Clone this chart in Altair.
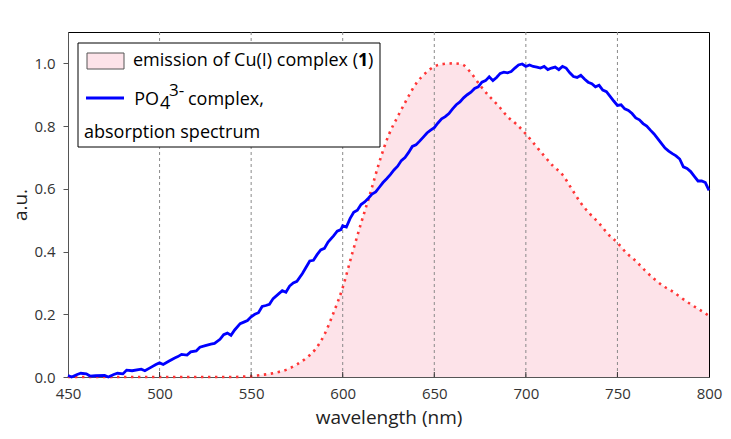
import altair as alt
import pandas as pd

# ---- data ----
em_wl = [450, 460, 470, 480, 490, 500, 510, 520, 530, 540, 545, 550, 555, 560, 565, 570, 575, 580,
         585, 590, 595, 600, 605, 610, 615, 620, 625, 630, 635, 640, 645, 650, 655, 660, 665,
         670, 675, 680, 685, 690, 695, 700, 705, 710, 715, 720, 725, 730, 735, 740, 745, 750,
         755, 760, 765, 770, 775, 780, 785, 790, 795, 800]
em_val = [0.0, 0.0, 0.0, 0.0, 0.0, 0.0, 0.0, 0.0, 0.0, 0.0, 0.001, 0.002, 0.006, 0.01, 0.016, 0.025,
          0.04, 0.06, 0.088, 0.135, 0.205, 0.285, 0.39, 0.49, 0.585, 0.685, 0.77, 0.83, 0.885,
          0.935, 0.968, 0.99, 0.998, 1.0, 0.997, 0.97, 0.93, 0.895, 0.865, 0.83, 0.805, 0.775,
          0.74, 0.705, 0.672, 0.645, 0.6, 0.555, 0.52, 0.49, 0.455, 0.428, 0.395, 0.37, 0.34,
          0.313, 0.29, 0.273, 0.252, 0.232, 0.214, 0.195]

ab_wl = [450, 452, 455, 457, 460, 462, 465, 470, 472, 475, 477, 480, 482, 485, 490, 492, 495, 498,
         500, 502, 505, 508, 510, 512, 515, 517, 520, 522, 525, 528, 530, 533, 535, 537, 539,
         541, 544, 546, 548, 550, 552, 554, 556, 558, 560, 562, 565, 567, 569, 571, 573, 575,
         578, 580, 582, 584, 586, 588, 590, 592, 595, 597, 599, 600, 602, 604, 606, 608, 610,
         612, 614, 616, 618, 620, 622, 624, 626, 628, 630, 632, 634, 636, 638, 640, 642, 644,
         646, 648, 650, 652, 654, 656, 658, 660, 662, 664, 666, 668, 670, 672, 674, 676, 678,
         680, 682, 684, 686, 688, 690, 692, 694, 696, 698, 700, 702, 704, 706, 708, 710, 712,
         714, 716, 718, 720, 722, 724, 726, 728, 730, 732, 734, 736, 738, 740, 742, 744, 746,
         748, 750, 752, 754, 756, 758, 760, 762, 764, 766, 768, 770, 772, 774, 776, 778, 780,
         782, 784, 786, 788, 790, 792, 794, 796, 798, 800]
ab_val = [0.005, 0.0, 0.008, 0.012, 0.01, 0.003, 0.004, 0.005, 0.0, 0.008, 0.012, 0.01, 0.022,
          0.02, 0.025, 0.02, 0.03, 0.04, 0.045, 0.04, 0.05, 0.06, 0.065, 0.072, 0.07, 0.08,
          0.083, 0.095, 0.1, 0.105, 0.107, 0.12, 0.135, 0.14, 0.133, 0.15, 0.17, 0.175, 0.18,
          0.192, 0.2, 0.205, 0.225, 0.228, 0.232, 0.25, 0.265, 0.275, 0.27, 0.29, 0.3, 0.305,
          0.33, 0.35, 0.37, 0.372, 0.39, 0.405, 0.41, 0.43, 0.45, 0.465, 0.47, 0.482, 0.478,
          0.505, 0.525, 0.532, 0.55, 0.558, 0.57, 0.583, 0.59, 0.605, 0.62, 0.632, 0.645, 0.66,
          0.672, 0.69, 0.7, 0.716, 0.735, 0.74, 0.752, 0.765, 0.778, 0.787, 0.795, 0.81, 0.823,
          0.83, 0.84, 0.855, 0.868, 0.877, 0.89, 0.9, 0.908, 0.92, 0.925, 0.94, 0.945, 0.957,
          0.945, 0.955, 0.968, 0.972, 0.97, 0.974, 0.985, 0.995, 0.998, 0.99, 0.995, 0.99,
          0.988, 0.985, 0.99, 0.98, 0.985, 0.988, 0.98, 0.99, 0.985, 0.97, 0.958, 0.955, 0.962,
          0.95, 0.94, 0.935, 0.925, 0.93, 0.915, 0.91, 0.895, 0.88, 0.866, 0.868, 0.855, 0.85,
          0.84, 0.826, 0.82, 0.808, 0.8, 0.787, 0.775, 0.76, 0.745, 0.73, 0.72, 0.712, 0.705,
          0.695, 0.67, 0.665, 0.655, 0.64, 0.625, 0.625, 0.62, 0.595]

x_ticks = [450, 500, 550, 600, 650, 700, 750, 800]
y_ticks = [0.0, 0.2, 0.4, 0.6, 0.8, 1.0]

W, H = 641, 345
FONT = "Open Sans"

em = pd.DataFrame({"wl": em_wl, "v": em_val})
ab = pd.DataFrame({"wl": ab_wl, "v": ab_val})
ticks = pd.DataFrame({"wl": x_ticks[1:-1]})

xs = alt.Scale(domain=[450, 800], nice=False, zero=False)
ys = alt.Scale(domain=[0, 1.1], nice=False)

x_axis = alt.Axis(values=x_ticks, title="wavelength (nm)", grid=False, tickSize=0,
                  labelPadding=9, titlePadding=7, format="d", labelFlush=False,
                  labelOverlap=False)
y_axis = alt.Axis(values=y_ticks, title="a.u.", grid=False, tickSize=5, format=".1f",
                  labelPadding=8, titlePadding=3, labelFlush=False, labelOverlap=False)

area = alt.Chart(em).mark_area(color="#fde3e9", opacity=1).encode(
    x=alt.X("wl:Q", scale=xs, axis=x_axis),
    y=alt.Y("v:Q", scale=ys, axis=y_axis),
)
grid = alt.Chart(ticks).mark_rule(color="#8a8a8a", strokeWidth=1, strokeDash=[3, 3]).encode(
    x=alt.X("wl:Q", scale=xs), y=alt.value(0), y2=alt.value(H))
em_line = alt.Chart(em).mark_line(color="#ff3535", strokeWidth=2.6, strokeDash=[2.4, 4.6],
                                  interpolate="monotone").encode(
    x=alt.X("wl:Q", scale=xs), y=alt.Y("v:Q", scale=ys))
ab_line = alt.Chart(ab).mark_line(color="#0000ff", strokeWidth=2.8).encode(
    x=alt.X("wl:Q", scale=xs), y=alt.Y("v:Q", scale=ys))

tick_rules = alt.Chart(ticks).mark_rule(color="#333333", strokeWidth=1).encode(
    x=alt.X("wl:Q", scale=xs), y=alt.value(H - 5), y2=alt.value(H))

one = alt.Data(values=[{}])
legend_box = alt.Chart(one).mark_rect(fill="white", stroke="black", strokeWidth=1).encode(
    x=alt.value(10), x2=alt.value(312), y=alt.value(11), y2=alt.value(115))
swatch = alt.Chart(one).mark_rect(fill="#fde3e9", stroke="#555555", strokeWidth=1).encode(
    x=alt.value(19), x2=alt.value(56), y=alt.value(21), y2=alt.value(37))
blue_sw = alt.Chart(one).mark_rule(color="#0000ff", strokeWidth=2.8).encode(
    x=alt.value(18), x2=alt.value(56), y=alt.value(66))


def txt(s, x, y, size=18, weight="normal", align="left"):
    return alt.Chart(one).mark_text(text=s, font=FONT, fontSize=size, fontWeight=weight,
                                    align=align, baseline="middle", color="black").encode(
        x=alt.value(x), y=alt.value(y))


leg_texts = [
    txt("emission of Cu(I) complex (", 290, 29, align="right"),
    txt("1", 290, 29, weight="bold"),
    txt(")", 300, 29),
    txt("PO", 91, 68, align="right"),
    txt("4", 92, 72),
    txt("3-", 101, 59, size=17),
    txt("complex,", 120, 68),
    txt("absorption spectrum", 16, 101),
]

chart = alt.layer(area, grid, em_line, ab_line, tick_rules, legend_box, swatch, blue_sw,
                  *leg_texts).properties(
    width=W, height=H,
    autosize=alt.AutoSizeParams(type="none"),
    padding={"left": 60, "top": 24, "right": 14, "bottom": 54},
).configure_view(stroke="black", strokeWidth=1).configure_axis(
    labelFont=FONT, titleFont=FONT, labelFontSize=15, titleFontSize=19,
    labelColor="#333333", titleColor="#222222", titleFontWeight="normal",
    domainColor="#555555", tickColor="#555555",
)

chart.save("out.html", embed_options={"renderer": "svg", "actions": False})
